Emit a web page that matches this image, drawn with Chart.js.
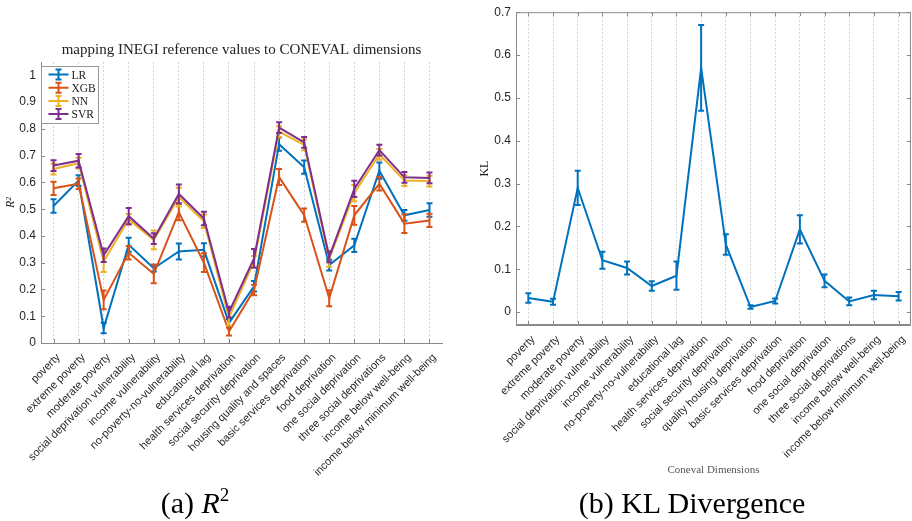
<!DOCTYPE html>
<html>
<head>
<meta charset="utf-8">
<script src="https://cdn.jsdelivr.net/npm/chart.js@4.4.1/dist/chart.umd.min.js"></script>
<style>
  html, body { margin: 0; padding: 0; background: #fff; overflow: hidden; width: 912px; height: 521px; }
  #wrapA { position: absolute; left: 0; top: 0; width: 460px; height: 490px; }
  #wrapB { position: absolute; left: 460px; top: 0; width: 456px; height: 482px; }
  .cap { position: absolute; top: 486px; height: 34px; line-height: 34px; font-family: "Liberation Serif", serif; font-size: 30px; color: #000; text-align: center; white-space: nowrap; }
</style>
</head>
<body>
<div id="wrapA"><canvas id="r2"></canvas></div>
<div id="wrapB"><canvas id="kl"></canvas></div>
<div class="cap" style="left:95px;width:200px;">(a) <i>R</i><sup style="font-size:19px;vertical-align:12px;line-height:0">2</sup></div>
<div class="cap" style="left:552px;width:280px;">(b) KL Divergence</div>
<script>
const dimsR2 = ["poverty", "extreme poverty", "moderate poverty", "social deprivation vulnerability",
  "income vulnerability", "no-poverty-no-vulnerability", "educational lag", "health services deprivation",
  "social security deprivation", "housing quality and spaces", "basic services deprivation", "food deprivation",
  "one social deprivation", "three social deprivations", "income below well-being", "income below minimum well-being"]
const dimsKL = ["poverty", "extreme poverty", "moderate poverty", "social deprivation vulnerability",
  "income vulnerability", "no-poverty-no-vulnerability", "educational lag", "health services deprivation",
  "social security deprivation", "quality housing deprivation", "basic services deprivation", "food deprivation",
  "one social deprivation", "three social deprivations", "income below well-being", "income below minimum well-being"]

// R^2 mean and error per model
const lrMean  = [0.512, 0.607, 0.056, 0.367, 0.279, 0.342, 0.348, 0.075, 0.212, 0.743, 0.657, 0.291, 0.365, 0.644, 0.477, 0.497]
const lrErr   = [0.025, 0.02, 0.02, 0.026, 0.012, 0.03, 0.025, 0.015, 0.02, 0.025, 0.025, 0.02, 0.025, 0.03, 0.02, 0.025]
const xgbMean = [0.578, 0.595, 0.161, 0.337, 0.258, 0.489, 0.30, 0.043, 0.198, 0.62, 0.478, 0.167, 0.477, 0.595, 0.446, 0.458]
const xgbErr  = [0.025, 0.02, 0.035, 0.025, 0.035, 0.03, 0.035, 0.015, 0.02, 0.03, 0.025, 0.03, 0.035, 0.025, 0.035, 0.025]
const nnMean  = [0.65, 0.672, 0.305, 0.462, 0.385, 0.545, 0.455, 0.095, 0.305, 0.79, 0.74, 0.315, 0.56, 0.705, 0.607, 0.605]
const nnErr   = [0.02, 0.02, 0.04, 0.02, 0.035, 0.035, 0.025, 0.03, 0.02, 0.02, 0.02, 0.03, 0.03, 0.02, 0.02, 0.02]
const svrMean = [0.663, 0.681, 0.328, 0.474, 0.39, 0.557, 0.465, 0.115, 0.316, 0.805, 0.75, 0.322, 0.576, 0.721, 0.619, 0.617]
const svrErr  = [0.02, 0.025, 0.025, 0.03, 0.02, 0.035, 0.025, 0.02, 0.035, 0.02, 0.02, 0.02, 0.03, 0.02, 0.02, 0.02]

// KL divergence mean and error
const klMean = [0.033, 0.024, 0.29, 0.121, 0.103, 0.061, 0.085, 0.57, 0.158, 0.012, 0.026, 0.193, 0.073, 0.025, 0.04, 0.037]
const klErr  = [0.011, 0.007, 0.04, 0.02, 0.015, 0.011, 0.033, 0.1, 0.024, 0.004, 0.006, 0.033, 0.015, 0.009, 0.01, 0.01]

const BLUE = "#0072BD", ORANGE = "#D95319", YELLOW = "#EDB120", PURPLE = "#7E2F8E"
const SANS = "'Liberation Sans', Arial, sans-serif"
const SERIF = "'Liberation Serif', 'Times New Roman', serif"
const AXIS = "#8a8a8a"

// vertical error bars, drawn right after each line so the stacking matches
const errorBars = {
  id: "errorBars",
  afterDatasetDraw(chart, args) {
    const ds = chart.data.datasets[args.index]
    if (!ds.errors) return
    const y = chart.scales.y
    const ctx = chart.ctx
    ctx.save()
    ctx.strokeStyle = ds.borderColor
    ctx.lineWidth = 2
    args.meta.data.forEach((pt, i) => {
      const top = y.getPixelForValue(ds.data[i] + ds.errors[i])
      const bot = y.getPixelForValue(ds.data[i] - ds.errors[i])
      ctx.beginPath()
      ctx.moveTo(pt.x, top); ctx.lineTo(pt.x, bot)
      ctx.moveTo(pt.x - 3, top); ctx.lineTo(pt.x + 3, top)
      ctx.moveTo(pt.x - 3, bot); ctx.lineTo(pt.x + 3, bot)
      ctx.stroke()
    })
    ctx.restore()
  }
}

// matlab style ticks pointing into the plot
const innerTicks = {
  id: "innerTicks",
  afterDraw(chart, args, opts) {
    const { ctx, chartArea: a, scales: { x, y } } = chart
    ctx.save()
    ctx.strokeStyle = AXIS
    ctx.lineWidth = 1
    ctx.beginPath()
    x.ticks.forEach((t, i) => {
      const px = Math.round(x.getPixelForTick(i)) + 0.5
      ctx.moveTo(px, a.bottom); ctx.lineTo(px, a.bottom - 4)
      if (opts.box) { ctx.moveTo(px, a.top); ctx.lineTo(px, a.top + 4) }
    })
    y.ticks.forEach((t, i) => {
      const py = Math.round(y.getPixelForTick(i)) + 0.5
      ctx.moveTo(a.left, py); ctx.lineTo(a.left + 4, py)
      if (opts.box) { ctx.moveTo(a.right, py); ctx.lineTo(a.right - 4, py) }
    })
    if (opts.box) ctx.rect(a.left + 0.5, a.top + 0.5, a.width - 1, a.height - 1)
    ctx.stroke()
    ctx.restore()
  }
}

// legend box in the top left corner of the R^2 axes
const boxLegend = {
  id: "boxLegend",
  afterDraw(chart, args, opts) {
    if (!opts.show) return
    const { ctx, chartArea: a } = chart
    const x0 = Math.round(a.left) + 0.5, y0 = Math.round(a.top) + 4.5
    ctx.save()
    ctx.fillStyle = "#fff"
    ctx.strokeStyle = "#999"
    ctx.lineWidth = 1
    ctx.fillRect(x0, y0, 57, 57)
    ctx.strokeRect(x0, y0, 57, 57)
    ctx.font = "11.5px " + SERIF
    ctx.textBaseline = "middle"
    chart.data.datasets.forEach((ds, i) => {
      const cy = y0 + 8 + i * 13.2
      ctx.strokeStyle = ds.borderColor
      ctx.lineWidth = 2
      ctx.beginPath()
      ctx.moveTo(x0 + 7, cy); ctx.lineTo(x0 + 27, cy)
      ctx.moveTo(x0 + 17, cy - 5); ctx.lineTo(x0 + 17, cy + 5)
      ctx.moveTo(x0 + 14, cy - 5); ctx.lineTo(x0 + 20, cy - 5)
      ctx.moveTo(x0 + 14, cy + 5); ctx.lineTo(x0 + 20, cy + 5)
      ctx.stroke()
      ctx.fillStyle = "#222"
      ctx.fillText(ds.label, x0 + 30, cy + 1)
    })
    ctx.restore()
  }
}

function series(label, data, errors, color, order) {
  return { label, data, errors, borderColor: color, backgroundColor: color, borderWidth: 2,
    pointRadius: 0, tension: 0, order }
}

function xAxis(height, title) {
  return {
    offset: true,
    grid: { display: true, offset: false, drawTicks: false, color: "#d4d4d4", lineWidth: 1 },
    border: { display: true, color: AXIS, dash: [2, 2] },
    ticks: { minRotation: 45, maxRotation: 45, autoSkip: false, padding: 8, labelOffset: 5,
      color: "#262626", font: { family: SANS, size: 11 } },
    title: title ? { display: true, text: title, color: "#555", font: { family: SERIF, size: 11 },
      padding: { top: 0, bottom: 5 } } : { display: false },
    afterFit: (s) => { s.height = height }
  }
}

function yAxis(min, max, width, title, titlePad, titleSize) {
  return {
    min, max,
    grid: { display: false, drawTicks: false },
    border: { display: true, color: AXIS },
    ticks: { stepSize: 0.1, includeBounds: false, padding: 5, color: "#262626",
      font: { family: SANS, size: 12 }, callback: (v) => String(+v.toFixed(2)) },
    title: { display: true, text: title, color: "#222",
      font: { family: SERIF, size: titleSize, style: title === "R²" ? "italic" : "normal" },
      padding: { top: titlePad, bottom: 0 } },
    afterFit: (s) => { s.width = width }
  }
}

new Chart(document.getElementById("r2"), {
  type: "line",
  data: {
    labels: dimsR2,
    datasets: [
      series("LR", lrMean, lrErr, BLUE, 4),
      series("XGB", xgbMean, xgbErr, ORANGE, 3),
      series("NN", nnMean, nnErr, YELLOW, 2),
      series("SVR", svrMean, svrErr, PURPLE, 1)
    ]
  },
  options: {
    responsive: true,
    maintainAspectRatio: false,
    animation: false,
    layout: { padding: { left: 0, right: 18, top: 0, bottom: 0 } },
    scales: { x: xAxis(147, null), y: yAxis(0, 1.05, 41, "R²", 4, 12) },
    plugins: {
      legend: { display: false },
      tooltip: { enabled: false },
      title: { display: true, fullSize: false, text: "mapping INEGI reference values to CONEVAL dimensions",
        color: "#222", font: { family: SERIF, size: 15, weight: "normal" }, padding: { top: 41, bottom: 3 } },
      innerTicks: { box: false },
      boxLegend: { show: true }
    }
  },
  plugins: [errorBars, innerTicks, boxLegend]
})

new Chart(document.getElementById("kl"), {
  type: "line",
  data: {
    labels: dimsKL,
    datasets: [series("KL", klMean, klErr, BLUE, 1)]
  },
  options: {
    responsive: true,
    maintainAspectRatio: false,
    animation: false,
    layout: { padding: { left: 0, right: 2, top: 12, bottom: 0 } },
    scales: { x: xAxis(157, "Coneval Dimensions"), y: yAxis(-0.03, 0.7, 56, "KL", 18, 12) },
    plugins: {
      legend: { display: false },
      tooltip: { enabled: false },
      innerTicks: { box: true },
      boxLegend: { show: false }
    }
  },
  plugins: [errorBars, innerTicks, boxLegend]
})
</script>
</body>
</html>
